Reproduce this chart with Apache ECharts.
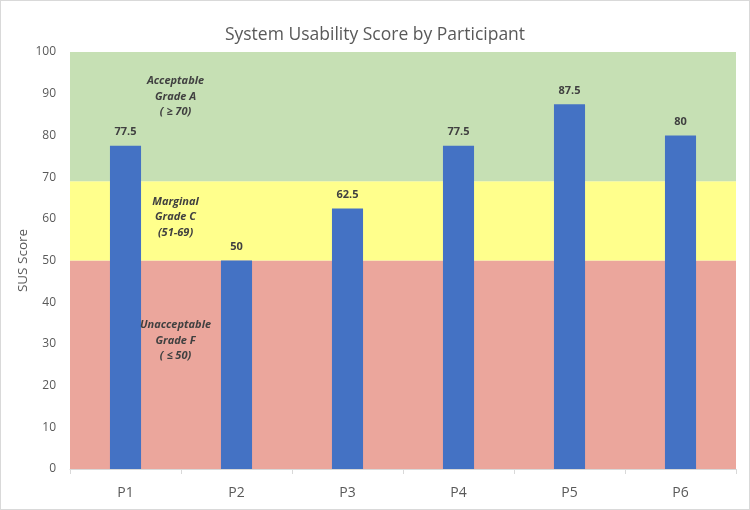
<!DOCTYPE html>
<html>
<head>
<meta charset="utf-8">
<script src="https://cdn.jsdelivr.net/npm/echarts@6/dist/echarts.min.js"></script>
<style>
html, body { margin: 0; padding: 0; background: #fff; }
#main { width: 750px; height: 510px; box-sizing: border-box; border: 1px solid #d9d9d9; }
</style>
</head>
<body>
<div id="main"></div>
<script>
// chart data
var participants = ['P1', 'P2', 'P3', 'P4', 'P5', 'P6'];
var susScores = [77.5, 50, 62.5, 77.5, 87.5, 80];
// grade bands [from, to]
var bandRanges = [[0, 50], [50, 69], [69, 100]];
var bandColors = ['#EBA69C', '#FFFF8C', '#C6E0B4'];
var bandLabels = ['Unacceptable\nGrade F\n( \u2264 50)', 'Marginal\nGrade C\n(51-69)', 'Acceptable\nGrade A\n( \u2265 70)'];
var bandLabelY = [30.8, 60.4, 89.3];

var font = '"Open Sans", "Liberation Sans", sans-serif';
var myChart = echarts.init(document.getElementById('main'));

var option = {
    animation: false,
    title: {
        text: 'System Usability Score by Participant',
        left: 'center',
        top: 20,
        textStyle: { fontFamily: font, fontSize: 17.5, fontWeight: 'normal', color: '#595959' }
    },
    grid: { left: 69, right: 13, top: 51, bottom: 40 },
    xAxis: {
        type: 'category',
        data: participants,
        axisLine: { lineStyle: { color: '#d9d9d9' } },
        axisTick: { show: true, length: 5, lineStyle: { color: '#d9d9d9' } },
        axisLabel: { fontFamily: font, fontSize: 14, color: '#595959', margin: 17 }
    },
    yAxis: {
        type: 'value',
        min: 0,
        max: 100,
        interval: 10,
        name: 'SUS Score',
        nameLocation: 'middle',
        nameGap: 40,
        nameMoveOverlap: false,
        nameTextStyle: { fontFamily: font, fontSize: 13.5, color: '#595959' },
        axisLine: { show: false },
        axisTick: { show: false },
        splitLine: { show: false },
        axisLabel: { fontFamily: font, fontSize: 12, color: '#595959', margin: 14 }
    },
    series: [
        {
            type: 'bar',
            data: susScores,
            barWidth: '28%',
            itemStyle: { color: '#4472C4' },
            label: {
                show: true,
                position: 'top',
                distance: 8,
                fontFamily: font,
                fontSize: 11,
                fontWeight: 'bold',
                color: '#404040'
            },
            markArea: {
                silent: true,
                z: -1,
                data: bandRanges.map(function (r, i) {
                    return [
                        { yAxis: r[0], itemStyle: { color: bandColors[i] } },
                        { yAxis: r[1] }
                    ];
                })
            },
            markPoint: {
                silent: true,
                symbolSize: 0,
                data: bandLabels.map(function (t, i) {
                    return {
                        coord: [0, bandLabelY[i]],
                        label: {
                            show: true,
                            formatter: t,
                            offset: [50, 0],
                            fontFamily: font,
                            fontSize: 11,
                            fontStyle: 'italic',
                            fontWeight: 'bold',
                            lineHeight: 15.5,
                            color: '#404040'
                        }
                    };
                })
            }
        }
    ]
};

option && myChart.setOption(option);
</script>
</body>
</html>
